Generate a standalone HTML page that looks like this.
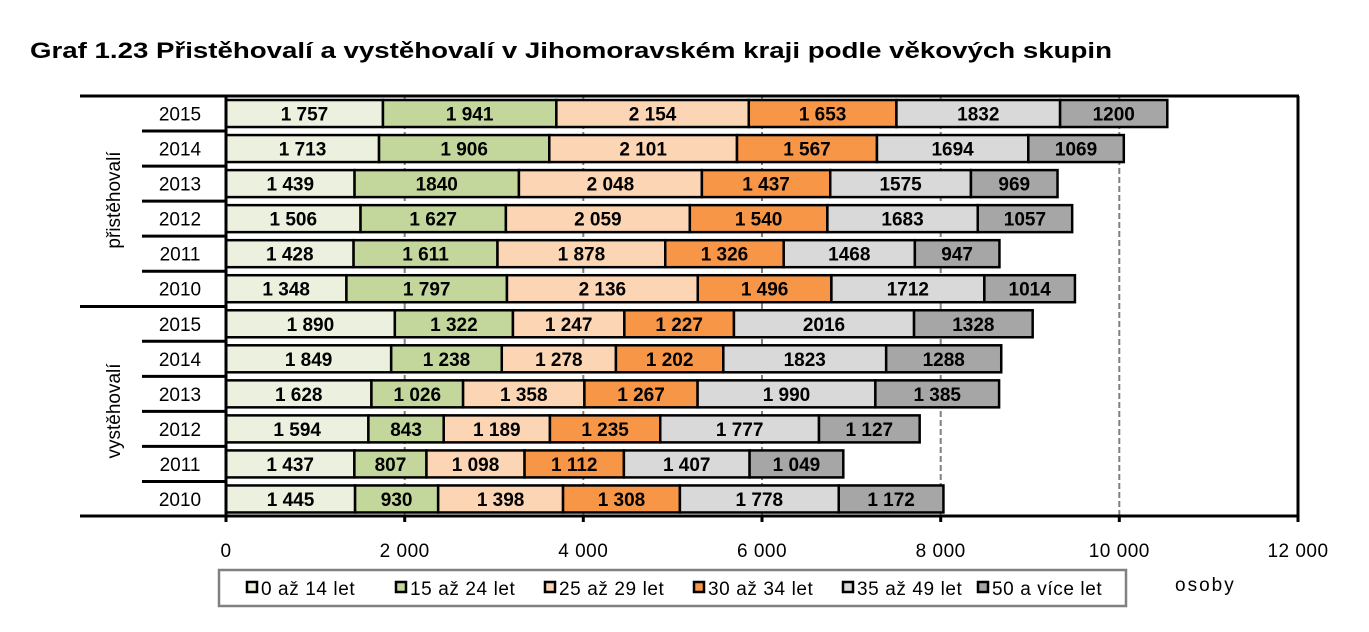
<!DOCTYPE html>
<html><head><meta charset="utf-8"><style>
body{margin:0;background:#fff;}
svg{display:block;font-family:"Liberation Sans",Arial,sans-serif;}
</style></head><body>
<svg width="1369" height="632" viewBox="0 0 1369 632" xmlns="http://www.w3.org/2000/svg">
<text x="30" y="58" font-size="22" font-weight="bold" textLength="1082" lengthAdjust="spacingAndGlyphs">Graf 1.23 Přistěhovalí a vystěhovalí v Jihomoravském kraji podle věkových skupin</text>
<g id="grid" stroke="#808080" stroke-width="2" stroke-dasharray="6,3">
<line x1="404.7" y1="96" x2="404.7" y2="516"/>
<line x1="583.3" y1="96" x2="583.3" y2="516"/>
<line x1="762" y1="96" x2="762" y2="516"/>
<line x1="940.7" y1="96" x2="940.7" y2="516"/>
<line x1="1119.3" y1="96" x2="1119.3" y2="516"/>
</g>
<g id="bars"></g>
<g stroke="#000" stroke-width="3" fill="none">
<line x1="80" y1="96" x2="1299" y2="96"/>
<line x1="1298" y1="96" x2="1298" y2="516"/>
<line x1="80" y1="516" x2="1299" y2="516"/>
<line x1="226" y1="96" x2="226" y2="522"/>
<line x1="80" y1="306.5" x2="226" y2="306.5"/>
</g>
<g id="sep" stroke="#000" stroke-width="3"></g>
<g stroke="#000" stroke-width="3">
<line x1="404.7" y1="516" x2="404.7" y2="522"/><line x1="583.3" y1="516" x2="583.3" y2="522"/>
<line x1="762" y1="516" x2="762" y2="522"/><line x1="940.7" y1="516" x2="940.7" y2="522"/>
<line x1="1119.3" y1="516" x2="1119.3" y2="522"/><line x1="1298" y1="516" x2="1298" y2="522"/>
</g>
<g font-size="19" text-anchor="middle" letter-spacing="0.5">
<text x="226" y="557">0</text><text x="404.7" y="557">2 000</text><text x="583.3" y="557">4 000</text>
<text x="762" y="557">6 000</text><text x="940.7" y="557">8 000</text><text x="1119.3" y="557">10 000</text><text x="1298" y="557">12 000</text>
</g>
<g id="years" font-size="19" text-anchor="middle"></g>
<text transform="translate(120,200) rotate(-90)" font-size="19" text-anchor="middle">přistěhovalí</text>
<text transform="translate(120,411) rotate(-90)" font-size="19" text-anchor="middle">vystěhovalí</text>
<rect x="219" y="570" width="907" height="36" fill="#fff" stroke="#808080" stroke-width="2.5"/>
<g id="legend" font-size="19" letter-spacing="0.6"></g>
<text x="1175" y="591" font-size="19" letter-spacing="2">osoby</text>
<script>
(function(){
var ns="http://www.w3.org/2000/svg";
function el(p,t,a,txt){var e=document.createElementNS(ns,t);for(var k in a)e.setAttribute(k,a[k]);if(txt!=null)e.textContent=txt;p.appendChild(e);return e;}
var cols=["#ebf1de","#c3d69b","#fcd5b5","#f79646","#d9d9d9","#a6a6a6"];
var data=[
[2015,[1757,1941,2154,1653,1832,1200],["1 757","1 941","2 154","1 653","1832","1200"]],
[2014,[1713,1906,2101,1567,1694,1069],["1 713","1 906","2 101","1 567","1694","1069"]],
[2013,[1439,1840,2048,1437,1575,969],["1 439","1840","2 048","1 437","1575","969"]],
[2012,[1506,1627,2059,1540,1683,1057],["1 506","1 627","2 059","1 540","1683","1057"]],
[2011,[1428,1611,1878,1326,1468,947],["1 428","1 611","1 878","1 326","1468","947"]],
[2010,[1348,1797,2136,1496,1712,1014],["1 348","1 797","2 136","1 496","1712","1014"]],
[2015,[1890,1322,1247,1227,2016,1328],["1 890","1 322","1 247","1 227","2016","1328"]],
[2014,[1849,1238,1278,1202,1823,1288],["1 849","1 238","1 278","1 202","1823","1288"]],
[2013,[1628,1026,1358,1267,1990,1385],["1 628","1 026","1 358","1 267","1 990","1 385"]],
[2012,[1594,843,1189,1235,1777,1127],["1 594","843","1 189","1 235","1 777","1 127"]],
[2011,[1437,807,1098,1112,1407,1049],["1 437","807","1 098","1 112","1 407","1 049"]],
[2010,[1445,930,1398,1308,1778,1172],["1 445","930","1 398","1 308","1 778","1 172"]]];
var sc=1072/12000,pitch=35.04,topY=96;
var B=document.getElementById("bars"),Y=document.getElementById("years"),S=document.getElementById("sep");
data.forEach(function(r,i){
 var cy=topY+pitch*(i+0.5),x=226;
 el(Y,"text",{x:180,y:cy+7},r[0]);
 if(i>0&&i!=6)el(S,"line",{x1:142,y1:topY+pitch*i,x2:226,y2:topY+pitch*i});
 r[1].forEach(function(v,j){
  var w=v*sc;
  el(B,"rect",{x:x,y:cy-13.5,width:w,height:27,fill:cols[j],stroke:"#000","stroke-width":2.5});
  el(B,"text",{x:x+w/2,y:cy+7,"font-size":19,"font-weight":"bold","text-anchor":"middle"},r[2][j]);
  x+=w;});
});
var L=document.getElementById("legend");
var labs=["0 až 14 let","15 až 24 let","25 až 29 let","30 až 34 let","35 až 49 let","50 a více let"];
var lx=[247,396,545,694,843,978];
labs.forEach(function(t,j){
 el(L,"rect",{x:lx[j],y:582,width:10,height:10,fill:cols[j],stroke:"#000","stroke-width":2.5});
 el(L,"text",{x:lx[j]+14,y:595},t);
});
})();
</script>
</svg>
</body></html>
